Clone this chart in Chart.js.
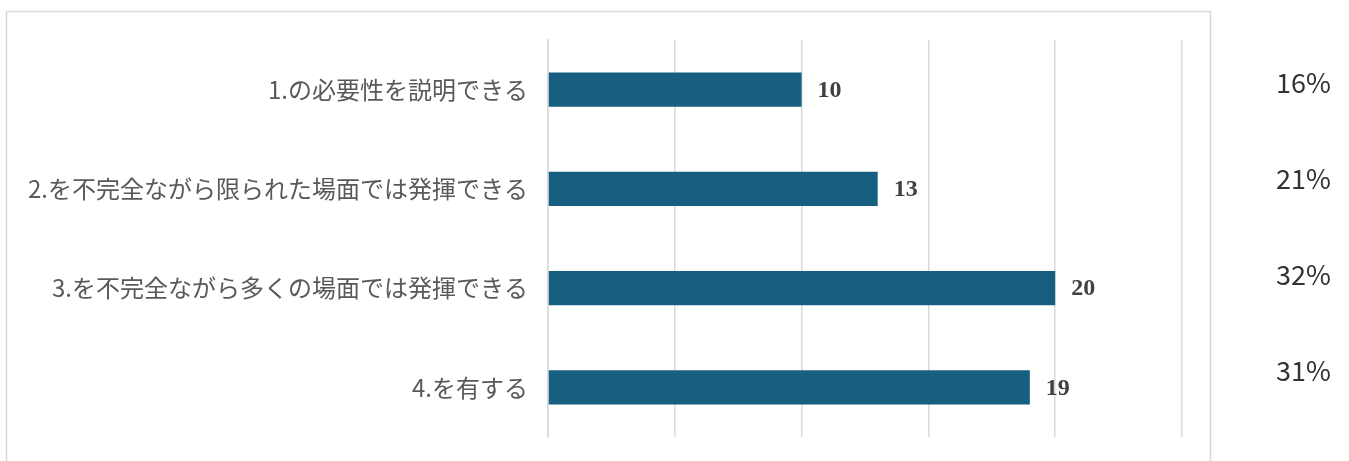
<!DOCTYPE html>
<html>
<head>
<meta charset="utf-8">
<script src="https://cdn.jsdelivr.net/npm/chart.js@4/dist/chart.umd.min.js"></script>
<style>
  html, body { margin: 0; padding: 0; background: #fff; }
  #wrap { width: 1349px; height: 461px; position: relative; }
</style>
</head>
<body>
<div id="wrap"><canvas id="barChart"></canvas></div>
<script>
// Chart data
const categories = [
    '1.の必要性を説明できる',
    '2.を不完全ながら限られた場面では発揮できる',
    '3.を不完全ながら多くの場面では発揮できる',
    '4.を有する'
];
const counts = [10, 13, 20, 19];
const shareLabels = ['16%', '21%', '32%', '31%'];
const xTicks = [0, 5, 10, 15, 20, 25];

const barColor = '#175f80';
const gridColor = '#d9d9d9';

// Outer frame and right-hand share column
const framePlugin = {
    id: 'frame',
    beforeDraw(chart) {
        const ctx = chart.ctx;
        ctx.save();
        ctx.strokeStyle = gridColor;
        ctx.lineWidth = 1.5;
        ctx.strokeRect(6.5, 11.5, 1204, 480);
        ctx.restore();
    },
    afterDraw(chart) {
        const ctx = chart.ctx;
        ctx.save();
        ctx.fillStyle = '#333333';
        ctx.font = '27px "Noto Sans CJK JP", "Noto Sans", sans-serif';
        ctx.textAlign = 'left';
        ctx.textBaseline = 'middle';
        shareLabels.forEach((txt, i) => {
            ctx.fillText(txt, 1276, 83 + i * 96);
        });
        ctx.restore();
    }
};

// Value labels at the end of each bar
const valueLabels = {
    id: 'valueLabels',
    afterDatasetsDraw(chart) {
        const ctx = chart.ctx;
        const meta = chart.getDatasetMeta(0);
        ctx.save();
        ctx.fillStyle = '#404040';
        ctx.font = 'bold 24px "Liberation Serif", "DejaVu Serif", serif';
        ctx.textAlign = 'left';
        ctx.textBaseline = 'middle';
        meta.data.forEach((bar, i) => {
            ctx.fillText(String(counts[i]), bar.x + 16, bar.y + 1);
        });
        ctx.restore();
    }
};

const ctx = document.getElementById('barChart');
new Chart(ctx, {
    type: 'bar',
    data: {
        labels: categories,
        datasets: [{
            data: counts,
            backgroundColor: barColor,
            barPercentage: 0.345,
            categoryPercentage: 1
        }]
    },
    options: {
        indexAxis: 'y',
        responsive: true,
        maintainAspectRatio: false,
        animation: false,
        layout: {
            padding: { top: 40, bottom: 24, left: 0, right: 167 }
        },
        scales: {
            x: {
                min: xTicks[0],
                max: xTicks[xTicks.length - 1],
                afterBuildTicks(scale) {
                    scale.ticks = xTicks.map(v => ({ value: v }));
                },
                afterFit(scale) {
                    scale.height = 0;
                },
                ticks: { display: false },
                grid: {
                    color: gridColor,
                    lineWidth: 1.5,
                    drawTicks: false
                },
                border: { display: false }
            },
            y: {
                afterFit(scale) {
                    scale.width = 548;
                    scale.paddingTop = 0;
                    scale.paddingBottom = 0;
                },
                ticks: {
                    color: '#595959',
                    padding: 20,
                    font: {
                        family: '"Noto Sans CJK JP", sans-serif',
                        size: 24
                    }
                },
                grid: { display: false, drawTicks: false },
                border: { display: true, color: gridColor, width: 1.5 }
            }
        },
        plugins: {
            legend: { display: false },
            tooltip: { enabled: false }
        }
    },
    plugins: [framePlugin, valueLabels]
});
</script>
</body>
</html>
